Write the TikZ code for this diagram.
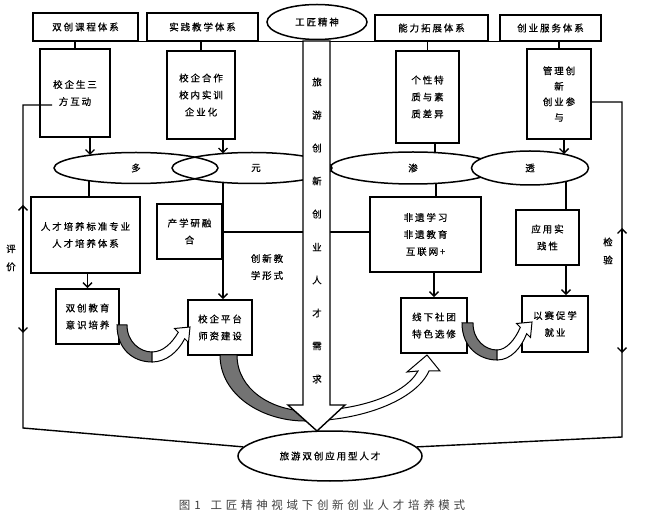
\documentclass[tikz,border=0pt]{standalone}
\usepackage{fontspec}
\newfontfamily\cjk[LetterSpace=20,FakeBold=0.6]{Noto Sans CJK SC}
\newfontfamily\cjkcap[LetterSpace=32]{Noto Sans CJK SC}
\usetikzlibrary{shapes.geometric,arrows.meta,calc}
\begin{document}
\begin{tikzpicture}[x=1pt,y=-1pt,
  ln/.style={line width=1.4pt},
  arr/.style={line width=1.4pt,-{Straight Barb[length=4.5pt,width=9pt]}},
  dbl/.style={line width=1.4pt,{Straight Barb[length=4.5pt,width=9pt]}-{Straight Barb[length=4.5pt,width=9pt]}},
  box/.style={draw,line width=1.6pt,fill=white,inner sep=0pt,align=center,font=\cjk\fontsize{9.5}{17}\selectfont},
  ell/.style={draw,ellipse,line width=1.5pt,inner sep=0pt,font=\cjk\fontsize{9.5}{11}\selectfont},
  lbl/.style={inner sep=0pt,align=center,font=\cjk\fontsize{9.5}{18}\selectfont},
  grayband/.style={fill=black!55,draw,line width=1pt},
  whiteband/.style={fill=white,draw,line width=1pt},
  bigarr/.style={fill=white,draw,line width=1.4pt}]
\useasboundingbox (0,0) rectangle (645,526);
\fill[white] (0,0) rectangle (645,526);

% top row
\node[box,minimum width=105,minimum height=28] (t1) at (85.5,27) {双创课程体系};
\node[box,minimum width=111,minimum height=28] (t2) at (202.5,27) {实践教学体系};
\node[box,minimum width=113,minimum height=26] (t3) at (431.5,28) {能力拓展体系};
\node[box,minimum width=101,minimum height=26] (t4) at (550.5,28) {创业服务体系};
\draw[ln] (t1.south west) -- (t4.south east);
\node[ell,fill=white,minimum width=100,minimum height=35] (gj) at (317,22) {工匠精神};

% level 2
\node[box,minimum width=70,minimum height=88] (b1) at (75,93) {校企生三\\方互动};
\node[box,minimum width=68,minimum height=88] (b2) at (201,95) {校企合作\\校内实训\\企业化};
\node[box,minimum width=63,minimum height=92] (b3) at (427.5,97) {个性特\\质与素\\质差异};
\node[box,minimum width=64,minimum height=90,font=\cjk\fontsize{9.5}{15.5}\selectfont] (b4) at (559,94) {管理创\\新\\创业参\\与};
\foreach \b/\t in {b1/t1,b2/t2,b3/t3,b4/t4} \draw[ln] (\b.north) -- (\b.north |- \t.south);

% ellipses
\node[ell,minimum width=164,minimum height=31] (e1) at (136,168) {多};
\node[ell,minimum width=160,minimum height=31] (e2) at (252,168) {\hspace{8pt}元};
\node[ell,minimum width=166,minimum height=32] (e3) at (413,168) {渗};
\node[ell,fill=white,minimum width=117,minimum height=34] (e4) at (530,168) {透};

\coordinate (b1o) at (90,137);  \coordinate (e1t) at (90,155);
\coordinate (b2o) at (223,139); \coordinate (e2t) at (223,153.5);
\coordinate (b3o) at (435,143); \coordinate (e3t) at (435,152.5);
\coordinate (b4o) at (564,139); \coordinate (e4t) at (564,154);
\draw[arr] (b1o) -- (e1t);
\draw[arr] (b2o) -- (e2t);
\draw[ln] (b3o) -- (e3t);
\draw[arr] (b4o) -- (e4t);

% level 3
\node[box,minimum width=109,minimum height=76] (c1) at (85.5,235) {人才培养标准专业\\人才培养体系};
\node[box,minimum width=65,minimum height=55] (c2) at (189.5,231.5) {产学研融\\合};
\node[box,minimum width=111,minimum height=75] (c3) at (425.5,234.5) {非遗学习\\非遗教育\\互联网+};
\node[box,minimum width=63,minimum height=55] (c4) at (547.5,237.5) {应用实\\践性};
\node[lbl,font=\cjk\fontsize{9.5}{17}\selectfont] (note) at (267,267) {创新教\\学形式};

\coordinate (e1b) at (89,180.5);
\coordinate (e2b) at (223,182.4);
\coordinate (e3b) at (436,183.4);
\coordinate (e4b) at (566,181.4);
\draw[ln] (e1b) -- (c1.north -| e1b);
\draw[ln] (e3b) -- (c3.north -| e3b);
\draw[ln] (e4b) -- (c4.north -| e4b);
\coordinate (hL) at (223,232); \coordinate (shL) at (304,232);
\coordinate (shR) at (330,232);
\draw[ln] (hL) -- (shL);
\draw[ln] (shR) -- (c3.west |- shR);

% level 4
\node[box,minimum width=63,minimum height=55] (d1) at (87.5,316.5) {双创教育\\意识培养};
\node[box,minimum width=64,minimum height=55] (d2) at (220,327.5) {校企平台\\师资建设};
\node[box,minimum width=66,minimum height=55] (d3) at (434,325.5) {线下社团\\特色选修};
\node[box,minimum width=66,minimum height=56] (d4) at (555,324) {以赛促学\\就业};
\draw[arr] (c1.south -| d1.north) -- (d1.north);
\draw[arr] (e2b) -- (d2.north -| e2b);
\draw[arr] (c3.south -| d3.north) -- (d3.north);
\coordinate (c4o) at (566,265);
\draw[arr] (c4o) -- (d4.north -| c4o);

% curved arrows
\filldraw[grayband] (117,325) .. controls (117,350) and (134,362) .. (152,362) -- (152,352) .. controls (140,352) and (127,342) .. (127,325) -- cycle;
\filldraw[whiteband] (152,362) .. controls (166,362) and (178,352) .. (184.7,338.7) -- (188.5,342.5) -- (190,327) -- (174.5,328.5) -- (178.3,332.3) .. controls (172,343) and (163,352) .. (152,352) -- cycle;

\filldraw[grayband] (220,355) .. controls (220,395) and (262,421) .. (305,421) -- (305,411) .. controls (272,410) and (237,390) .. (237,355) -- cycle;
\filldraw[whiteband] (305,421) .. controls (362,421) and (416,400) .. (429,371) -- (440,371) -- (427,355) -- (407,372) -- (418,371) .. controls (404,396) and (356,411) .. (305,411) -- cycle;

\filldraw[grayband] (462,323) .. controls (462,348) and (480,360) .. (497,360) -- (497,350) .. controls (485,350) and (473,340) .. (473,323) -- cycle;
\filldraw[whiteband] (497,360) .. controls (511,360) and (521,348) .. (526.7,333.7) -- (530.5,337.5) -- (532,322) -- (516.5,323.5) -- (520.3,327.3) .. controls (515,340) and (506,350) .. (497,350) -- cycle;

% big central arrow
\draw[bigarr] (303,41) -- (303,405) -- (288,405) -- (317,431) -- (345,405) -- (330,405) -- (330,41) -- cycle;
\foreach \ch [count=\i from 0] in {旅,游,创,新,创,业,人,才,需,求}
  \node[lbl] (s\i) at (317,82+33*\i) {\ch};

% bottom ellipse
\node[ell,fill=white,minimum width=184,minimum height=50] (bot) at (330,456) {旅游双创应用型人才};

% feedback loops
\coordinate (b1in) at (52,105);
\coordinate (L1) at (23,105);
\coordinate (L2) at (23,428);
\draw[ln] (b1in) -- (L1) -- (L2) -- (bot.174);
\coordinate (La) at (23,205); \coordinate (Lb) at (23,333);
\draw[dbl] (La) -- (Lb);
\node[lbl] (pj) at (11,258) {评\\价};

\coordinate (R0) at (b4.east |- 0,102);
\coordinate (R1) at (622,102);
\coordinate (R2) at (622,437);
\draw[ln] (R0) -- (R1) -- (R2) -- (bot.6);
\coordinate (Ra) at (622,228); \coordinate (Rb) at (622,353);
\draw[dbl] (Ra) -- (Rb);
\node[lbl] (jy) at (608,251) {检\\验};

% caption
\node[inner sep=0pt,text=black!75,font=\cjkcap\fontsize{11.5}{13}\selectfont] (cap) at (322,505) {图\hspace{4pt}1\hspace{10pt}工匠精神视域下创新创业人才培养模式};
\end{tikzpicture}
\end{document}
